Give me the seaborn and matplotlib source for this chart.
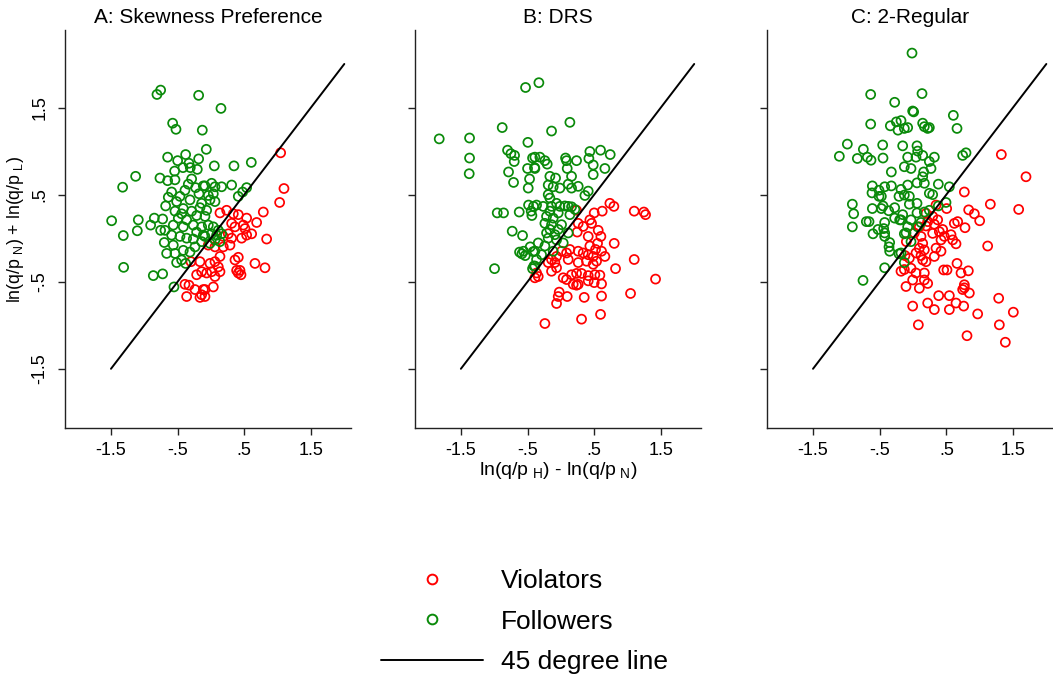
import matplotlib
matplotlib.use("Agg")
import matplotlib.pyplot as plt
from matplotlib.lines import Line2D
import seaborn as sns
import pandas as pd

# ---------------- data ----------------
titles = ["A: Skewness Preference", "B: DRS", "C: 2-Regular"]
tick_vals = [-1.5, -0.5, 0.5, 1.5]
tick_labels = ["-1.5", "-.5", ".5", "1.5"]
line_x = [-1.5, 2.0]
line_y = [-1.5, 2.0]

# Panel A
a_foll = [(-0.81,1.65),(-0.755,1.70),(-0.185,1.64),(-0.575,1.32),(-0.525,1.25),(-0.13,1.24),(-0.65,0.93),(-0.38,0.96),
(-0.50,0.89),(-0.185,0.91),(-0.33,0.86),(-0.42,0.81),(-0.31,0.81),(-0.205,0.79),(-0.545,0.77),(-1.13,0.71),(-0.765,0.69),
(-0.65,0.66),(-0.54,0.67),(-0.29,0.68),(-1.325,0.585),(-0.34,0.62),(-0.23,0.58),(-0.115,0.60),(-0.39,0.55),(-0.59,0.53),
(-0.18,0.51),(-0.465,0.48),(-0.64,0.47),(-0.315,0.44),(-0.515,0.42),(-0.14,0.40),(-0.68,0.37),(-0.415,0.34),(-0.29,0.31),
(-0.54,0.31),(-0.165,0.35),(-0.44,0.28),(-0.215,0.26),(-0.49,0.23),(-0.365,0.21),(-0.565,0.15),(-0.415,0.13),(-0.265,0.15),
(-0.14,0.13),(-0.215,0.07),(-0.115,0.035),(-0.69,0.09),(-0.59,0.035),(-0.465,0.02),(-0.365,0.0),(-0.265,-0.01),(-0.14,-0.04),
(-0.70,-0.05),(-0.565,-0.08),(-0.24,-0.10),(-0.415,-0.14),(-0.315,-0.16),(-0.665,-0.175),(-0.54,-0.175),(-0.44,-0.25),
(-0.515,-0.28),(-0.38,-0.29),(-1.49,0.20),(-1.09,0.21),(-0.85,0.23),(-0.725,0.22),(-0.905,0.15),(-1.105,0.085),(-1.315,0.03),
(-0.755,0.09),(-1.31,-0.335),(-0.865,-0.43),(-0.725,-0.41),(-0.555,-0.56),
(0.15,1.49),(-0.07,1.02),(0.05,0.83),(0.345,0.83),(0.605,0.87),(-0.09,0.60),(0.01,0.63),(0.06,0.59),(0.16,0.59),(0.31,0.61),
(-0.04,0.49),(0.035,0.51),(-0.015,0.44),(0.06,0.42),(0.41,0.48),(0.475,0.53),(0.535,0.58),(-0.065,0.32),(-0.09,0.25),
(-0.04,0.15),(0.035,0.13),(0.11,0.09),(0.01,0.05),(0.085,0.035),(0.16,0.05),(0.06,-0.02),(0.135,-0.04),(-0.015,-0.06),(-0.09,0.02)]
a_viol = [(-0.30,-0.27),(-0.165,-0.27),(-0.14,-0.385),(-0.215,-0.42),(-0.39,-0.53),(-0.33,-0.54),(-0.24,-0.59),(-0.365,-0.67),
(-0.14,-0.65),(-0.165,-0.68),(-0.115,-0.59),
(1.045,0.98),(1.095,0.57),(1.03,0.41),(0.785,0.30),(0.685,0.18),(0.835,-0.01),(0.66,-0.29),(0.81,-0.34),(0.135,0.29),
(0.235,0.32),(0.335,0.28),(0.41,0.27),(0.535,0.23),(0.31,0.17),(0.485,0.15),(0.51,0.11),(0.36,0.13),(0.61,0.05),(0.535,0.035),
(0.46,0.0),(0.26,0.05),(0.185,0.02),(0.31,0.0),(0.285,-0.08),(0.185,-0.10),(0.06,-0.10),(-0.04,-0.08),(0.135,-0.21),(0.36,-0.25),
(0.41,-0.22),(0.06,-0.27),(-0.015,-0.29),(0.11,-0.33),(0.01,-0.385),(0.135,-0.385),(-0.065,-0.40),(0.06,-0.44),(0.385,-0.37),
(0.435,-0.37),(0.45,-0.42),(0.41,-0.40),(0.035,-0.56),(-0.09,-0.59),(-0.09,-0.67)]

# Panel B
b_foll = [(-0.53,1.73),(-0.88,1.27),(-1.825,1.14),(-1.37,1.15),(-0.495,1.10),(-1.37,0.92),(-1.375,0.74),(-0.80,1.01),(-0.75,0.97),
(-0.695,0.95),(-0.70,0.88),(-0.425,0.92),(-0.50,0.80),(-0.395,0.81),(-0.785,0.76),(-0.71,0.64),(-0.47,0.68),(-0.49,0.575),
(-0.485,0.38),(-0.41,0.365),(-0.445,0.31),(-0.435,0.26),(-0.955,0.29),(-0.86,0.29),(-0.625,0.30),(-0.73,0.08),(-0.575,0.03),
(-0.46,-0.10),(-0.62,-0.16),(-0.585,-0.18),(-0.535,-0.20),(-0.56,-0.15),(-0.415,-0.155),(-0.995,-0.35),(-0.425,-0.35),(-0.405,-0.32),
(-0.33,1.785),(0.135,1.33),(-0.14,1.23),(-0.39,0.93),(-0.315,0.93),(-0.24,0.89),(-0.205,0.85),(-0.39,0.80),(0.07,0.92),(0.085,0.89),
(0.235,0.89),(0.095,0.80),(0.435,0.995),(0.42,0.915),(0.485,0.84),(0.595,1.01),(0.74,0.96),(0.66,0.80),(0.485,0.73),(-0.165,0.71),
(-0.08,0.69),(-0.19,0.61),(-0.115,0.59),(-0.015,0.575),(0.16,0.71),(0.11,0.62),(0.16,0.575),(0.26,0.595),(0.41,0.54),(0.36,0.49),
(-0.19,0.50),(-0.165,0.46),(-0.365,0.38),(-0.265,0.365),(-0.14,0.365),(-0.065,0.40),(-0.015,0.365),(0.06,0.37),(0.11,0.365),
(0.16,0.36),(0.21,0.33),(-0.165,0.31),(-0.04,0.29),(0.135,0.27),(-0.215,0.25),(-0.115,0.23),(-0.24,0.17),(-0.14,0.155),(0.01,0.155),
(-0.165,0.10),(-0.04,0.10),(-0.215,0.06),(-0.09,0.04),(0.11,0.06),(-0.19,0.00),(-0.065,-0.02),(0.035,-0.055),(-0.34,-0.055),
(-0.24,-0.09),(-0.115,-0.15),(-0.39,-0.15),(-0.29,-0.19),(-0.365,-0.245),(-0.39,-0.32)]
b_viol = [(0.735,0.40),(0.795,0.365),(1.10,0.31),(1.245,0.30),(1.27,0.27),(0.62,0.31),(0.50,0.29),(0.235,0.32),(0.435,0.21),
(0.26,0.17),(0.335,0.135),(0.46,0.17),(0.56,0.09),(0.60,0.02),(0.41,0.02),(0.245,0.07),(0.80,-0.06),(0.55,-0.06),(0.52,-0.13),
(0.61,-0.15),(0.435,-0.09),(0.335,-0.17),(0.26,-0.15),(0.41,-0.19),(0.485,-0.21),(0.66,-0.21),(0.135,-0.13),(0.085,-0.17),
(0.11,-0.245),(0.01,-0.15),(-0.065,-0.21),(-0.14,-0.245),(-0.19,-0.28),(-0.09,-0.28),(0.26,-0.28),(0.385,-0.265),(0.485,-0.30),
(0.535,-0.265),(1.10,-0.245),(0.82,-0.35),(1.42,-0.47),(-0.14,-0.38),(-0.065,-0.34),(-0.365,-0.40),(-0.34,-0.44),(-0.39,-0.455),
(0.035,-0.455),(0.085,-0.475),(0.16,-0.42),(0.235,-0.405),(0.31,-0.405),(0.41,-0.49),(0.51,-0.42),(0.585,-0.425),(0.50,-0.51),
(0.61,-0.525),(0.185,-0.53),(0.235,-0.54),(0.26,-0.53),(0.41,-0.43),(-0.025,-0.62),(-0.04,-0.67),(0.095,-0.67),(-0.065,-0.75),
(0.35,-0.68),(0.61,-0.665),(1.045,-0.635),(0.31,-0.93),(0.595,-0.875),(-0.24,-0.98)]

# Panel C
c_foll = [(-0.635,1.65),(-0.275,1.56),(-0.635,1.31),(-0.34,1.29),(-0.25,1.335),(-0.225,1.24),(-0.985,1.08),(-1.105,0.94),
(-0.745,1.02),(-0.835,0.915),(-0.685,0.93),(-0.63,0.895),(-0.455,1.07),(-0.45,0.92),(-0.325,0.76),(-0.61,0.60),(-0.425,0.59),
(-0.325,0.60),(-0.615,0.52),(-0.51,0.55),(-0.51,0.48),(-0.475,0.48),(-0.21,0.48),(-0.91,0.39),(-0.89,0.28),(-0.91,0.13),
(-0.61,0.34),(-0.475,0.34),(-0.45,0.37),(-0.365,0.315),(-0.275,0.35),(-0.275,0.23),(-0.20,0.21),(-0.70,0.19),(-0.66,0.19),
(-0.60,0.05),(-0.525,0.10),(-0.425,0.18),(-0.44,0.11),(-0.425,0.06),(-0.425,0.02),(-0.35,-0.05),(-0.36,-0.10),(-0.35,-0.15),
(-0.21,-0.18),(-0.425,-0.34),(-0.75,-0.485),
(-0.015,2.125),(0.135,1.66),(-0.005,1.46),(0.01,1.45),(-0.18,1.35),(-0.13,1.26),(-0.08,1.27),(0.145,1.32),(0.17,1.28),(0.22,1.26),
(0.245,1.27),(0.605,1.41),(0.66,1.26),(-0.155,1.06),(0.06,1.06),(0.07,1.0),(-0.08,0.93),(0.045,0.93),(0.145,0.95),(0.32,0.93),
(0.245,0.88),(0.745,0.95),(0.795,0.98),(-0.13,0.82),(-0.03,0.80),(0.16,0.76),(0.27,0.80),(0.145,0.705),(0.17,0.63),(0.06,0.635),
(-0.08,0.61),(-0.18,0.56),(-0.13,0.495),(-0.055,0.48),(0.245,0.515),(0.295,0.50),(0.38,0.62),(0.545,0.59),(-0.055,0.39),(0.06,0.40),
(-0.155,0.27),(-0.18,0.21),(-0.03,0.21),(0.06,0.29),(0.17,0.30),(0.245,0.32),(-0.08,0.13),(0.07,0.13),(0.12,0.18),(-0.13,0.05),
(-0.03,-0.04),(-0.105,0.06),(-0.18,-0.17),(-0.13,-0.28),(0.38,0.37),(0.495,0.41)]
c_viol = [(1.325,0.96),(1.695,0.705),(0.77,0.53),(1.16,0.39),(1.585,0.33),(0.835,0.325),(0.92,0.28),(1.0,0.20),(0.505,0.34),
(0.345,0.38),(0.62,0.17),(0.67,0.19),(0.78,0.12),(1.12,-0.09),(0.195,0.285),(0.295,0.25),(0.37,0.21),(0.22,0.19),(0.32,0.16),
(0.445,0.10),(0.395,0.075),(0.295,0.055),(0.47,0.02),(0.57,0.04),(0.595,-0.02),(0.645,-0.065),(0.42,-0.02),(0.345,-0.115),
(0.42,-0.15),(0.32,-0.21),(0.195,0.14),(0.095,0.13),(0.02,0.06),(0.12,0.02),(0.145,-0.06),(0.095,-0.115),(0.17,-0.135),
(0.045,-0.17),(0.12,-0.20),(0.145,-0.25),(-0.055,-0.23),(0.195,-0.27),(-0.03,-0.345),(0.045,-0.40),(-0.13,-0.36),(-0.005,-0.48),
(0.17,-0.40),(0.17,-0.48),(0.22,-0.52),(-0.105,-0.555),(0.095,-0.575),(0.66,-0.29),(0.72,-0.40),(0.83,-0.375),(0.51,-0.365),
(0.46,-0.365),(0.77,-0.535),(0.745,-0.59),(0.845,-0.63),(0.77,-0.57),(0.385,-0.66),(0.545,-0.66),(0.22,-0.745),(-0.005,-0.78),
(0.32,-0.82),(0.545,-0.82),(0.645,-0.745),(0.76,-0.78),(0.97,-0.87),(0.08,-0.995),(0.81,-1.12),(1.285,-0.69),(1.505,-0.85),
(1.295,-0.995),(1.385,-1.195),(-0.10,-0.04),(-0.18,-0.38),(-0.12,-0.20)]

panels = [(a_viol, a_foll), (b_viol, b_foll), (c_viol, c_foll)]

# ---------------- style ----------------
sns.set_theme(style="ticks")
plt.rcParams["font.family"] = ["Liberation Sans", "DejaVu Sans"]
plt.rcParams["mathtext.default"] = "regular"
plt.rcParams["text.color"] = "black"
plt.rcParams["axes.labelcolor"] = "black"
plt.rcParams["axes.edgecolor"] = "#222222"
plt.rcParams["xtick.color"] = "#222222"
plt.rcParams["ytick.color"] = "#222222"
plt.rcParams["xtick.labelcolor"] = "black"
plt.rcParams["ytick.labelcolor"] = "black"

RED = "#ff0000"
GREEN = "#0a8a0a"

fig = plt.figure(figsize=(10.53, 6.82), dpi=100)
lefts = [0.0617, 0.394, 0.7284]
axes = [fig.add_axes([l, 0.3724, 0.2716, 0.5836]) for l in lefts]

for i, (ax, (viol, foll)) in enumerate(zip(axes, panels)):
    dv = pd.DataFrame(viol, columns=["x", "y"])
    dfo = pd.DataFrame(foll, columns=["x", "y"])
    sns.scatterplot(data=dv, x="x", y="y", ax=ax, s=42, facecolor="none",
                    edgecolor=RED, linewidth=1.25, zorder=2)
    sns.scatterplot(data=dfo, x="x", y="y", ax=ax, s=42, facecolor="none",
                    edgecolor=GREEN, linewidth=1.25, zorder=3)
    sns.lineplot(x=line_x, y=line_y, ax=ax, color="black", linewidth=1.4,
                 sort=False, zorder=4)
    ax.set_xlim(-2.19, 2.10)
    ax.set_ylim(-2.18, 2.39)
    ax.set_xticks(tick_vals)
    ax.set_xticklabels(tick_labels, fontsize=13)
    ax.set_yticks(tick_vals)
    if i == 0:
        ax.set_yticklabels(tick_labels, fontsize=13, rotation=90, va="center")
        ax.set_ylabel(r"ln(q/p$_{\ N}$) + ln(q/p$_{\ L}$)", fontsize=12.8, labelpad=4)
    else:
        ax.set_yticklabels([])
        ax.set_ylabel("")
    if i == 1:
        ax.set_xlabel(r"ln(q/p$_{\ H}$) - ln(q/p$_{\ N}$)", fontsize=14, labelpad=1)
    else:
        ax.set_xlabel("")
    ax.tick_params(axis="both", direction="out", length=5, width=1.0)
    ax.tick_params(axis="x", pad=5)
    ax.tick_params(axis="y", pad=7)
    for s in ["top", "right"]:
        ax.spines[s].set_visible(False)
    for s in ["left", "bottom"]:
        ax.spines[s].set_linewidth(1.0)
    ax.set_title(titles[i], fontsize=15, pad=5)

handles = [
    Line2D([0], [0], marker="o", linestyle="none", markerfacecolor="none",
           markeredgecolor=RED, markeredgewidth=1.4, markersize=7),
    Line2D([0], [0], marker="o", linestyle="none", markerfacecolor="none",
           markeredgecolor=GREEN, markeredgewidth=1.4, markersize=7),
    Line2D([0], [0], color="black", linewidth=1.4),
]
fig.legend(handles, ["Violators", "Followers", "45 degree line"],
           loc="center left", bbox_to_anchor=(368 / 1053, 0.0887), frameon=False,
           borderpad=0, fontsize=19, handlelength=3.86, handletextpad=0.68,
           labelspacing=0.62)

fig.savefig("out.png", dpi=100)
